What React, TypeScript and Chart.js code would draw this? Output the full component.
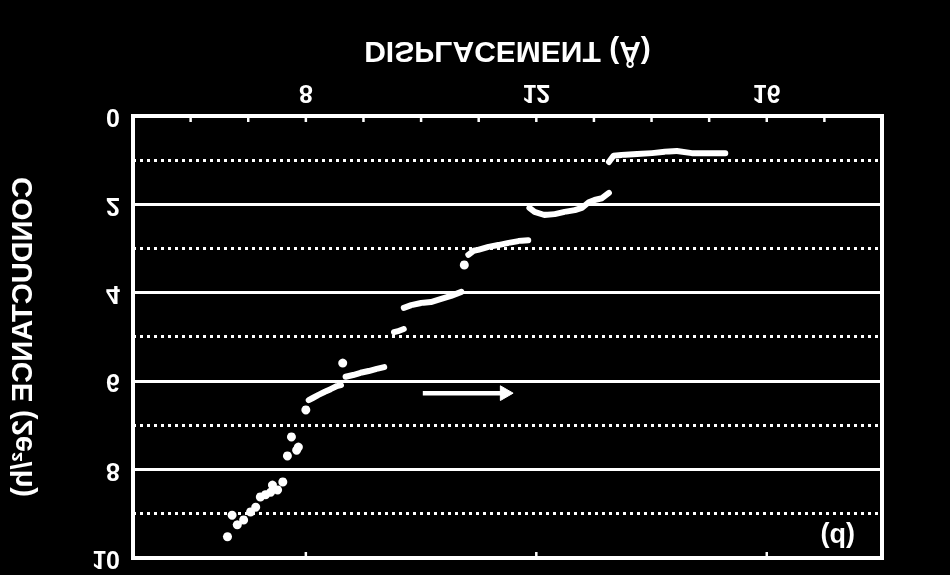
import React, { useEffect, useRef } from 'react';
import { Chart, registerables } from 'chart.js';

Chart.register(...registerables);

// Axis settings (displacement in Å, conductance in 2e²/h)
const xMin = 5;
const xMax = 18;
const xMajorTicks = [8, 12, 16];
const yMin = 0;
const yMax = 10;

// Isolated data points
const dotX = [6.64, 6.72, 6.81, 6.92, 7.04, 7.13, 7.21, 7.30, 7.39, 7.42, 7.51, 7.60, 7.68, 7.75, 7.84, 7.87, 8.00, 8.64, 10.75];
const dotY = [9.52, 9.03, 9.25, 9.14, 8.96, 8.85, 8.62, 8.57, 8.51, 8.35, 8.46, 8.28, 7.69, 7.26, 7.56, 7.49, 6.65, 5.59, 3.37];

// Dense trace segments (null separates plateaus)
const traceX = [
  8.05, 8.12, 8.22, 8.33, 8.43, 8.54, 8.61, null,
  8.69, 8.82, 8.95, 9.09, 9.23, 9.36, null,
  9.53, 9.62, 9.70, null,
  9.70, 9.83, 10.00, 10.17, 10.35, 10.52, 10.70, null,
  10.82, 10.91, 10.99, 11.17, 11.34, 11.52, 11.69, 11.86, null,
  11.88, 11.97, 12.14, 12.32, 12.49, 12.67, 12.79, 12.91, 13.01, 13.14, 13.26, null,
  13.26, 13.34, 13.48, 13.75, 14.01, 14.23, 14.44, 14.70, 14.97, 15.28,
];
const traceY = [
  6.43, 6.38, 6.31, 6.24, 6.18, 6.11, 6.09, null,
  5.90, 5.86, 5.81, 5.77, 5.72, 5.68, null,
  4.89, 4.86, 4.82, null,
  4.34, 4.28, 4.23, 4.21, 4.14, 4.07, 3.98, null,
  3.14, 3.05, 3.03, 2.96, 2.92, 2.87, 2.83, 2.81, null,
  2.08, 2.17, 2.24, 2.22, 2.17, 2.13, 2.08, 1.95, 1.90, 1.86, 1.74, null,
  1.04, 0.90, 0.88, 0.86, 0.84, 0.81, 0.79, 0.84, 0.84, 0.84,
];

// Direction arrow
const arrowX = [10.03, 11.45];
const arrowY = [6.27, 6.27];

// Panel label
const panelLabel = '(d)';
const panelLabelX = 17.23;
const panelLabelY = 9.48;

const xTitle = 'DISPLACEMENT (Å)';
const yTitle = 'CONDUCTANCE (2e²/h)';

const WHITE = '#ffffff';
const FONT = "'Liberation Sans', Arial, sans-serif";

const toPoints = (xs: (number | null)[], ys: (number | null)[]) =>
  xs.map((x, i) => ({ x: x as number, y: ys[i] as number }));

const framePlugin = {
  id: 'frame',
  beforeDraw(chart: any) {
    const { ctx, width, height } = chart;
    ctx.save();
    ctx.fillStyle = '#000000';
    ctx.fillRect(0, 0, width, height);
    ctx.restore();
  },
  afterDraw(chart: any) {
    const { ctx, chartArea } = chart;
    const xs = chart.scales.x;
    const ys = chart.scales.y;
    ctx.save();
    ctx.strokeStyle = WHITE;
    ctx.lineWidth = 4;
    ctx.strokeRect(chartArea.left, chartArea.top, chartArea.right - chartArea.left, chartArea.bottom - chartArea.top);
    // inward tick marks
    ctx.lineWidth = 2.5;
    for (let v = Math.ceil(xMin); v <= xMax; v++) {
      const px = xs.getPixelForValue(v);
      ctx.beginPath();
      ctx.moveTo(px, chartArea.bottom);
      ctx.lineTo(px, chartArea.bottom - 6);
      ctx.stroke();
    }
    for (const v of xMajorTicks) {
      const px = xs.getPixelForValue(v);
      ctx.beginPath();
      ctx.moveTo(px, chartArea.top);
      ctx.lineTo(px, chartArea.top + 6);
      ctx.stroke();
    }
    // panel label
    ctx.fillStyle = WHITE;
    ctx.font = `bold 27px ${FONT}`;
    ctx.textAlign = 'center';
    ctx.textBaseline = 'middle';
    ctx.fillText(panelLabel, xs.getPixelForValue(panelLabelX), ys.getPixelForValue(panelLabelY));
    ctx.restore();
  },
};

export default function App() {
  const canvasRef = useRef<HTMLCanvasElement | null>(null);

  useEffect(() => {
    const canvas = canvasRef.current;
    if (!canvas) return;
    const chart = new Chart(canvas, {
      type: 'scatter',
      data: {
        datasets: [
          {
            label: 'traces',
            data: toPoints(traceX, traceY),
            showLine: true,
            spanGaps: false,
            borderColor: WHITE,
            borderWidth: 6,
            borderCapStyle: 'round',
            borderJoinStyle: 'round',
            pointRadius: 0,
            pointHoverRadius: 0,
          } as any,
          {
            label: 'points',
            data: toPoints(dotX, dotY),
            showLine: false,
            pointRadius: 4.5,
            pointBackgroundColor: WHITE,
            pointBorderColor: WHITE,
            pointBorderWidth: 0,
          },
          {
            label: 'arrow',
            data: toPoints(arrowX, arrowY),
            showLine: true,
            borderColor: WHITE,
            borderWidth: 4.5,
            pointRadius: [0, 8.5],
            pointStyle: 'triangle',
            rotation: 90,
            pointBackgroundColor: WHITE,
            pointBorderColor: WHITE,
            pointBorderWidth: 1,
          } as any,
        ],
      },
      options: {
        responsive: false,
        animation: false,
        devicePixelRatio: 1,
        layout: { padding: { left: 0, right: 68, top: 17, bottom: 0 } },
        plugins: {
          legend: { display: false },
          tooltip: { enabled: false },
        },
        scales: {
          x: {
            type: 'linear',
            min: xMin,
            max: xMax,
            afterBuildTicks: (scale: any) => {
              scale.ticks = xMajorTicks.map((v) => ({ value: v }));
            },
            afterFit: (scale: any) => {
              scale.height = 116;
              scale.paddingLeft = 0;
              scale.paddingRight = 0;
            },
            ticks: {
              color: WHITE,
              font: { family: FONT, size: 25, weight: 'bold' },
              padding: 9,
              maxRotation: 0,
              autoSkip: false,
            },
            grid: { display: false, drawTicks: false },
            border: { display: false },
            title: {
              display: true,
              text: xTitle,
              color: WHITE,
              font: { family: FONT, size: 30, weight: 'bold' },
              padding: { top: 0, bottom: 32 },
            },
          },
          y: {
            type: 'linear',
            min: yMin,
            max: yMax,
            afterFit: (scale: any) => {
              scale.width = 133;
              scale.paddingTop = 0;
              scale.paddingBottom = 0;
            },
            ticks: {
              stepSize: 1,
              autoSkip: false,
              color: WHITE,
              font: { family: FONT, size: 25, weight: 'bold' },
              padding: 13,
              callback: (v: any) => (Number(v) % 2 === 0 ? String(v) : ''),
            },
            grid: {
              color: WHITE,
              lineWidth: 3,
              drawTicks: false,
            },
            border: {
              display: false,
              dash: (ctx: any) => (ctx.tick && Math.round(ctx.tick.value) % 2 === 1 ? [3, 4] : []),
            } as any,
            title: {
              display: true,
              text: yTitle,
              color: WHITE,
              font: { family: FONT, size: 29, weight: 'bold' },
              padding: { top: 7, bottom: 0 },
            },
          },
        },
      } as any,
      plugins: [framePlugin],
    });
    return () => chart.destroy();
  }, []);

  return (
    <div style={{ position: 'fixed', left: 0, top: 0, width: 950, height: 575, background: '#000' }}>
      <canvas
        ref={canvasRef}
        width={950}
        height={575}
        style={{ display: 'block', width: 950, height: 575, transform: 'scaleY(-1)' }}
      />
    </div>
  );
}
